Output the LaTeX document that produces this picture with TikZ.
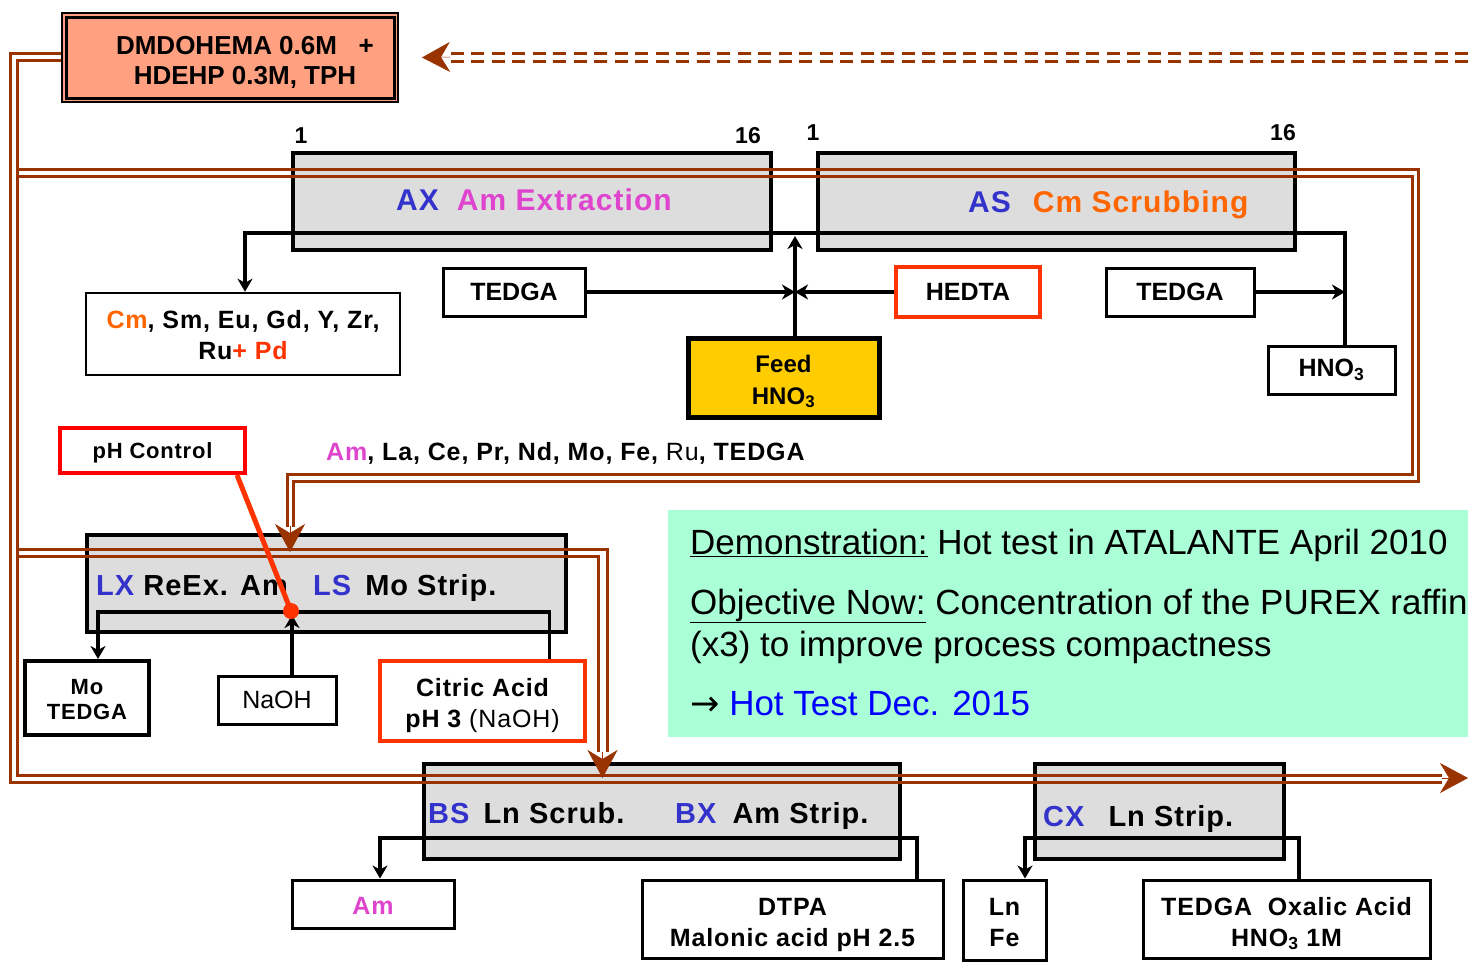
\documentclass[tikz,border=0pt]{standalone}
\usepackage{fontspec}
\setmainfont{Liberation Sans}
\newfontfamily\lsfont[LetterSpace=3.5]{Liberation Sans}
\newfontfamily\arrowfont{DejaVu Sans}
\usetikzlibrary{arrows.meta,calc}
\definecolor{brn}{RGB}{153,51,0}
\definecolor{boxgray}{RGB}{221,221,221}
\definecolor{lblue}{RGB}{51,51,204}
\definecolor{amc}{RGB}{222,68,206}
\definecolor{cmc}{RGB}{255,102,0}
\definecolor{redb}{RGB}{255,51,0}
\definecolor{phred}{RGB}{255,0,0}
\definecolor{salmon}{RGB}{255,160,128}
\definecolor{feedy}{RGB}{255,204,0}
\definecolor{mint}{RGB}{170,255,214}
\definecolor{hotblue}{RGB}{0,0,255}
\newcommand{\fsz}[2]{\fontsize{#1}{#2}\selectfont}
\begin{document}
\begin{tikzpicture}[x=1pt,y=-1pt,
  stagebox/.style={draw=black,fill=boxgray,line width=4pt,inner sep=0pt},
  wbox/.style={draw=black,fill=white,line width=3pt,inner sep=0pt,align=center,font=\fsz{25}{31}\bfseries},
  redbox/.style={wbox,draw=redb,line width=4pt},
  boxtxt/.style={inner sep=0pt,align=center,font=\fsz{25}{31}\lsfont\bfseries},
  lbl/.style={inner sep=0pt,font=\fsz{29}{34}\lsfont\bfseries},
  num/.style={inner sep=0pt,anchor=base,font=\fsz{23}{26}\bfseries},
  flow/.style={draw=black,line width=3.5pt,-{Stealth[length=13pt,width=15pt,inset=4pt]}},
  bline/.style={draw=brn,line width=3pt},
  btip/.style={draw=brn,line width=0.5pt,-{Stealth[length=28pt,width=30pt,inset=9pt]}},
  gtext/.style={inner sep=0pt,anchor=base west,font=\fsz{35}{40}},
]
\useasboundingbox (0,0) rectangle (1468,962);

% note box
\node[fill=mint,minimum width=800pt,minimum height=227pt,inner sep=0pt,anchor=north west] (note) at (668,510) {};

% organic box
\node[draw=black,fill=salmon,line width=2pt,inner sep=0pt,minimum width=336pt,minimum height=89pt] (org) at (230,57.5) {};
\draw[line width=3pt] ($(org.north west)+(5,5)$) rectangle ($(org.south east)+(-5,-5)$);
\node[inner sep=0pt,align=center,font=\fsz{26}{30}\bfseries] (orgtxt) at (245,62) {DMDOHEMA 0.6M\ \ \ +\\HDEHP 0.3M, TPH};

% stage boxes
\node[stagebox,minimum width=478pt,minimum height=97pt] (ax) at (532,201.5) {};
\node[stagebox,minimum width=477pt,minimum height=97pt] (as) at (1056.5,201.5) {};
\node[stagebox,minimum width=479pt,minimum height=97pt] (lx) at (326.5,583.5) {};
\node[stagebox,minimum width=476pt,minimum height=95pt] (bs) at (662,811.5) {};
\node[stagebox,minimum width=249pt,minimum height=95pt] (cx) at (1159.5,811.5) {};

% stage numbers
\node[num] (n1) at (301,143) {1};
\node[num] (n2) at (748,143) {16};
\node[num] (n3) at (813,140) {1};
\node[num] (n4) at (1283,140) {16};

% boxes
\node[wbox,line width=2.5pt,minimum width=314pt,minimum height=82pt] (cm) at (243,334) {};
\node[boxtxt] (cmt) at (243,335.5) {\textcolor{cmc}{Cm}, Sm, Eu, Gd, Y, Zr,\\Ru\textcolor{redb}{+ Pd}};
\node[wbox,minimum width=142pt,minimum height=48pt] (tedga1) at (514,292) {TEDGA};
\node[redbox,minimum width=144pt,minimum height=50pt] (hedta) at (968,292) {HEDTA};
\node[wbox,fill=feedy,line width=5pt,minimum width=191pt,minimum height=79pt] (feed) at (783.5,377.5) {};
\node[boxtxt,font=\fsz{24}{32}\bfseries] (feedt) at (783.5,381.5) {Feed\\HNO\textsubscript{3}};
\node[wbox,minimum width=148pt,minimum height=48pt] (tedga2) at (1180,292) {TEDGA};
\node[wbox,minimum width=127pt,minimum height=48pt] (hno3) at (1331.5,370) {HNO\textsubscript{3}};
\node[wbox,draw=phred,line width=4pt,minimum width=185pt,minimum height=45pt] (ph) at (152.5,450.5) {};
\node[boxtxt,font=\fsz{22}{26}\lsfont\bfseries] (pht) at (152.5,452.5) {pH Control};
\node[wbox,line width=4pt,minimum width=124pt,minimum height=74pt] (mot) at (87,698) {};
\node[boxtxt,font=\fsz{22}{25}\lsfont\bfseries] (mott) at (87,700) {Mo\\TEDGA};
\node[wbox,minimum width=118pt,minimum height=48pt,font=\fsz{25}{30}] (naoh) at (277,700) {NaOH};
\node[redbox,minimum width=205pt,minimum height=80pt] (citric) at (482.5,701) {};
\node[boxtxt] (citt) at (482.5,705.5) {Citric Acid\\pH 3 {\mdseries (NaOH)}};
\node[wbox,minimum width=162pt,minimum height=48pt] (amb) at (373,904) {};
\node[boxtxt] (ambt) at (373,906) {\textcolor{amc}{Am}};
\node[wbox,minimum width=301pt,minimum height=78pt] (dtpa) at (792.5,919) {};
\node[boxtxt] (dtpat) at (792.5,924.5) {DTPA\\Malonic acid pH 2.5};
\node[wbox,minimum width=83pt,minimum height=80pt] (lnfe) at (1004.5,920) {};
\node[boxtxt] (lnfet) at (1004.5,922.5) {Ln\\Fe};
\node[wbox,minimum width=287pt,minimum height=78pt] (tox) at (1286.5,919) {};
\node[boxtxt] (toxt) at (1286.5,923.5) {TEDGA\ \ Oxalic Acid\\HNO\textsubscript{3} 1M};

% black flows
\coordinate (axl) at (245,233);
\coordinate (j1) at (795,292);
\coordinate (ftip) at (795,236);
\coordinate (j2) at (1345,292);
\draw[flow] ([xshift=13.5pt]hno3.north) |- (axl) -- (axl |- cm.north);
\draw[flow] (feed.north -| j1) -- (ftip);
\draw[flow] (tedga1.east) -- (j1);
\draw[flow] (hedta.west) -- (j1);
\draw[flow] (tedga2.east) -- (j2);
\coordinate (lxl) at (98,612);
\draw[flow] ([xshift=67pt]citric.north) |- (lxl) -- (lxl |- mot.north);
\coordinate (natip) at (292,615);
\draw[flow] ([xshift=15pt]naoh.north) -- (natip);
\coordinate (bsl) at (380,838);
\draw[flow] ([xshift=124.5pt]dtpa.north) |- (bsl) -- (bsl |- amb.north);
\coordinate (cxl) at (1025,838);
\draw[flow] ([xshift=12.5pt]tox.north) |- (cxl) -- (cxl |- lnfe.north);

% brown organic flows
\draw[bline] ([yshift=4.5pt]org.west) -| (10,782) -- (1442,782);
\draw[bline] ([yshift=-2.5pt]org.west) -| (17,775) -- (1442,775);
\coordinate (outtip) at (1468,778);
\draw[btip] (1442,778) -- (outtip);

\draw[bline] (17,169) -- (1418,169) -- (1418,481) -- (293,481) -- (293,527);
\draw[bline] (17,176) -- (1412,176) -- (1412,474) -- (287,474) -- (287,527);
\coordinate (lxtip) at (290,552);
\draw[btip] (290,526) -- (lxtip);

\draw[bline] (17,549) -- (607,549) -- (607,752);
\draw[bline] (17,556) -- (598,556) -- (598,752);
\coordinate (bstip) at (602.5,778);
\draw[btip] (602.5,752) -- (bstip);

\draw[bline,dash pattern=on 13pt off 7.5pt] (1468,53) -- (447,53);
\draw[bline,dash pattern=on 13pt off 7.5pt] (1468,61) -- (447,61);
\draw[btip] (450,57) -- ([xshift=23pt]org.east);

% stage labels
\node[lbl,anchor=base,font=\fsz{30}{34}\lsfont\bfseries] (axt) at (534,210) {\textcolor{lblue}{AX}\hspace{18pt}\textcolor{amc}{Am Extraction}};
\node[lbl,anchor=base west,font=\fsz{30}{34}\lsfont\bfseries] (ast) at (968,212) {\textcolor{lblue}{AS}\hspace{22pt}\textcolor{cmc}{Cm Scrubbing}};
\node[lbl,anchor=base west] (lxt) at (96,595) {\textcolor{lblue}{LX} ReEx. Am};
\node[lbl,anchor=base west] (lst) at (313,595) {\textcolor{lblue}{LS}\hspace{14pt}Mo Strip.};
\node[lbl,anchor=base west] (bst) at (428,823) {\textcolor{lblue}{BS}\hspace{14pt}Ln Scrub.};
\node[lbl,anchor=base west] (bxt) at (675,823) {\textcolor{lblue}{BX}\hspace{16pt}Am Strip.};
\node[lbl,anchor=base west] (cxt) at (1043,826) {\textcolor{lblue}{CX}\hspace{24pt}Ln Strip.};

% raffinate composition
\node[inner sep=0pt,anchor=base west,font=\fsz{25}{30}\lsfont\bfseries] (raf) at (326,460) {\textcolor{amc}{Am}, La, Ce, Pr, Nd, Mo, Fe, {\mdseries Ru}, TEDGA};

% pH control link
\coordinate (phdot) at (291,611);
\draw[redb,line width=5pt] ([xshift=84.5pt]ph.south) -- (phdot);
\fill[redb] (phdot) circle (8pt);

% note text
\node[gtext] (d1) at (690,554) {\underline{Demonstration:} Hot test in ATALANTE April 2010};
\node[gtext] (d2) at (690,614) {\underline{Objective Now:} Concentration of the PUREX raffin};
\node[gtext] (d3) at (690,656) {(x3) to improve process compactness};
\node[gtext] (d4) at (690,715) {{\arrowfont →} \textcolor{hotblue}{Hot Test Dec. 2015}};
\end{tikzpicture}
\end{document}
